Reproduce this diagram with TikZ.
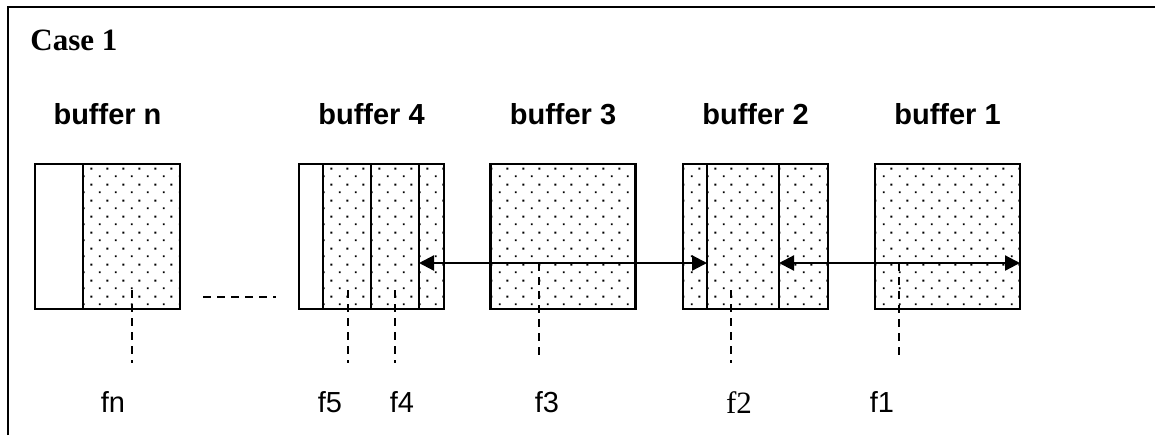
\documentclass[tikz,border=0pt]{standalone}
\usepackage{fontspec}
\newfontfamily\arialfont{Liberation Sans}
\newfontfamily\romanfont{Liberation Serif}
\usepackage{tikz}
\usetikzlibrary{arrows.meta,patterns}

\pgfdeclarepatternformonly{bufdots}{\pgfqpoint{0pt}{0pt}}{\pgfqpoint{8pt}{8pt}}{\pgfqpoint{8pt}{8pt}}{
  \pgfpathrectangle{\pgfqpoint{1.5pt}{1.5pt}}{\pgfqpoint{1pt}{1pt}}
  \pgfpathrectangle{\pgfqpoint{5.5pt}{5.5pt}}{\pgfqpoint{1pt}{1pt}}
  \pgfusepath{fill}}

\begin{document}
\begin{tikzpicture}[x=0.5pt,y=-0.5pt,
    buf/.style={draw,line width=1.1pt,pattern=bufdots,minimum width=72.5pt,minimum height=72.5pt,inner sep=0pt,outer sep=0pt},
    head/.style={font=\arialfont\bfseries\fontsize{14.5}{17}\selectfont,anchor=base},
    lab/.style={font=\arialfont\fontsize{14.5}{17}\selectfont,anchor=base},
    lead/.style={dash pattern=on 4pt off 3pt,line width=0.7pt},
    link/.style={{Triangle[length=7.5pt,width=7.5pt]}-{Triangle[length=7.5pt,width=7.5pt]},line width=1.1pt}]
    \useasboundingbox (0,0) rectangle (1155,435);
    \draw [line width=1.2pt] (8,435) -- (8,7) -- (1155,7);
    \node [anchor=base west,inner sep=0pt,font=\romanfont\bfseries\fontsize{15.5}{18}\selectfont] (case) at (30,50) {Case 1};

    \foreach \n/\x in {n/107.5,4/371.5,3/563,2/755.5,1/947.5} {
      \node [buf] (b\n) at (\x,236.5) {};
      \node [head] (h\n) at (\x,124) {buffer \n};
    }
    \draw [line width=1.1pt,fill=white] (bn.north west) rectangle (83,309);
    \draw [line width=1.1pt,fill=white] (b4.north west) rectangle (323,309);
    \foreach \x in {371,419,707,779}
      \draw [line width=1.1pt] (\x,164) -- (\x,309);

    \coordinate (a4) at (419,263);
    \coordinate (a2l) at (707,263);
    \coordinate (a2r) at (779,263);
    \coordinate (a1) at (1020,263);
    \draw [link] (a4) -- (a2l);
    \draw [link] (a2r) -- (a1);

    \draw [lead] (203,297) -- (276,297);
    \foreach \x/\t/\b in {132/290/363,348/290/363,395/290/363,539/263/355,731/290/363,899/263/355}
      \draw [lead] (\x,\t) -- (\x,\b);

    \node [lab] (fn) at (113,412) {fn};
    \node [lab] (f5) at (330,412) {f5};
    \node [lab] (f4) at (402,412) {f4};
    \node [lab] (f3) at (547,412) {f3};
    \node [lab,font=\romanfont\fontsize{15.5}{18}\selectfont] (f2) at (739,413) {f2};
    \node [lab] (f1) at (882,412) {f1};
  \end{tikzpicture}
\end{document}
